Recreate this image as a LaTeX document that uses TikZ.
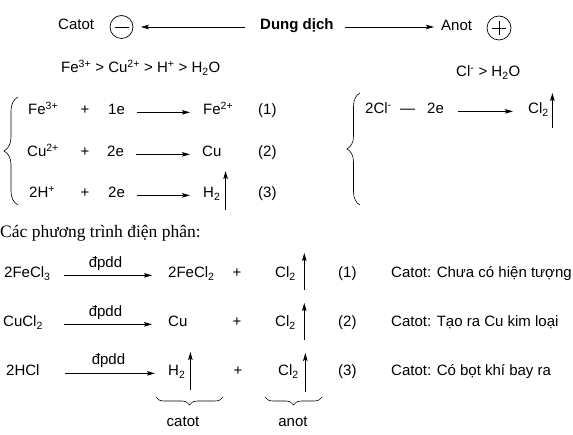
\documentclass[tikz,border=0pt]{standalone}
\usepackage{fontspec}
\setmainfont{Liberation Sans}
\newfontfamily\serifvn{Liberation Serif}
\usetikzlibrary{arrows.meta,decorations.pathreplacing}
\begin{document}
\begin{tikzpicture}[x=1pt,y=-1pt,
  tx/.style={inner sep=0pt, anchor=base west, font=\fontsize{15}{18}\selectfont},
  tc/.style={inner sep=0pt, anchor=base, font=\fontsize{15}{18}\selectfont},
  arr/.style={-{Stealth[length=8pt,width=4.5pt,inset=1.5pt]}, line width=0.8pt},
  br/.style={decorate, decoration={brace, amplitude=#1}, line width=0.6pt},
  ring/.style={draw, circle, inner sep=0pt, line width=0.7pt},
]
\useasboundingbox (0,0) rectangle (573,435);

% top row
\node[tx] (catot) at (58,30) {Catot};
\node[ring, minimum size=23pt] (minus) at (121.5,27) {};
\draw[line width=0.8pt] (minus.center) +(-7,0) -- +(7,0);
\node[tx, font=\fontsize{15}{18}\selectfont\bfseries] (dd) at (260,30) {Dung dịch};
\node[tx] (anot) at (441,31) {Anot};
\node[ring, minimum size=24pt] (plus) at (499,28) {};
\draw[line width=0.8pt] (plus.center) +(-7,0) -- +(7,0) (plus.center) +(0,-7) -- +(0,7);
\draw[arr, shorten <=15pt, shorten >=7.5pt] (dd.west |- minus.center) -- (minus.east);
\draw[arr, shorten <=11pt, shorten >=7pt] (dd.east |- minus.center) -- (anot.west |- minus.center);

\node[tx] (ordc) at (61,73) {Fe\textsuperscript{3+} > Cu\textsuperscript{2+} > H\textsuperscript{+} > H\textsubscript{2}O};
\node[tx] (orda) at (456,77) {Cl\textsuperscript{-} > H\textsubscript{2}O};

% cathode half reactions
\draw[br=14pt] (18,205) -- (18,97);
\node[tx] (l1a) at (28,115) {Fe\textsuperscript{3+}};
\node[tc] (l1p) at (85,115) {+};
\node[tx] (l1e) at (108,115) {1e};
\node[tx] (l1b) at (203,115) {Fe\textsuperscript{2+}};
\node[tx] (l1n) at (258,115) {(1)};
\draw[arr, shorten <=12pt, shorten >=13pt] (l1e.mid east) -- (l1b.mid west);

\node[tx] (l2a) at (27,157) {Cu\textsuperscript{2+}};
\node[tc] (l2p) at (85,157) {+};
\node[tx] (l2e) at (107,157) {2e};
\node[tx] (l2b) at (202,157) {Cu};
\node[tx] (l2n) at (258,157) {(2)};
\draw[arr, shorten <=11.5pt, shorten >=12pt] (l2e.mid east) -- (l2b.mid west);

\node[tx] (l3a) at (29,198) {2H\textsuperscript{+}};
\node[tc] (l3p) at (85,198) {+};
\node[tx] (l3e) at (108,198) {2e};
\node[tx] (l3b) at (203,198) {H\textsubscript{2}};
\node[tx] (l3n) at (258,198) {(3)};
\draw[arr, shorten <=11.5pt, shorten >=13pt] (l3e.mid east) -- (l3b.mid west);
\draw[arr] ([xshift=5pt]l3b.base east) ++(0,12) -- ++(0,-39);

% anode half reaction
\draw[br=13pt] (360,205) -- (360,93);
\node[tx] (r1a) at (365,114) {2Cl\textsuperscript{-}};
\node[tx] (r1m) at (400,114) {—};
\node[tx] (r1e) at (427,114) {2e};
\node[tx] (r1b) at (528,114) {Cl\textsubscript{2}};
\draw[arr, shorten <=14pt, shorten >=15pt] (r1e.mid east) -- (r1b.mid west);
\draw[arr] ([xshift=3.5pt]r1b.base east) ++(0,14) -- ++(0,-35);

% title
\node[tx, font=\serifvn\fontsize{17.5}{20}\selectfont] (title) at (0,238) {Các phương trình điện phân:};

% equation 1
\node[tx] (e1a) at (4,278) {2FeCl\textsubscript{3}};
\node[tc] (e1d) at (105.5,268) {đpdd};
\node[tx] (e1b) at (168,278) {2FeCl\textsubscript{2}};
\node[tc] (e1p) at (237,278) {+};
\node[tx] (e1c) at (275,278) {Cl\textsubscript{2}};
\node[tx] (e1n) at (338,278) {(1)};
\node[tx] (e1k) at (391,278) {Catot: Chưa có hiện tượng};
\draw[arr, shorten <=13pt, shorten >=16pt] (e1a.mid east) -- (e1b.mid west);
\draw[arr] ([xshift=8.4pt]e1c.base east) ++(0,12) -- ++(0,-37);

% equation 2
\node[tx] (e2a) at (3,327) {CuCl\textsubscript{2}};
\node[tc] (e2d) at (105.5,317) {đpdd};
\node[tx] (e2b) at (168,327) {Cu};
\node[tc] (e2p) at (237,327) {+};
\node[tx] (e2c) at (275,327) {Cl\textsubscript{2}};
\node[tx] (e2n) at (338,327) {(2)};
\node[tx] (e2k) at (391,327) {Catot: Tạo ra Cu kim loại};
\draw[arr, shorten <=21pt, shorten >=16pt] (e2a.mid east) -- (e2b.mid west);
\draw[arr] ([xshift=8.4pt]e2c.base east) ++(0,13) -- ++(0,-37);

% equation 3
\node[tx] (e3a) at (6,376) {2HCl};
\node[tc] (e3d) at (108.5,365) {đpdd};
\node[tx] (e3b) at (168,376) {H\textsubscript{2}};
\node[tc] (e3p) at (238,376) {+};
\node[tx] (e3c) at (278,376) {Cl\textsubscript{2}};
\node[tx] (e3n) at (338,376) {(3)};
\node[tx] (e3k) at (391,376) {Catot: Có bọt khí bay ra};
\draw[arr, shorten <=25.7pt, shorten >=13pt] (e3a.mid east) -- (e3b.mid west);
\draw[arr] ([xshift=4.8pt]e3b.base east) ++(0,14) -- ++(0,-38);
\draw[arr] ([xshift=6.4pt]e3c.base east) ++(0,16) -- ++(0,-39);

% bottom braces
\draw[br=8pt] (223,397) -- (156,397);
\node[tc] (lcat) at (183,427) {catot};
\draw[br=8pt] (322,397) -- (265,397);
\node[tc] (lan) at (293,427) {anot};
\end{tikzpicture}
\end{document}
